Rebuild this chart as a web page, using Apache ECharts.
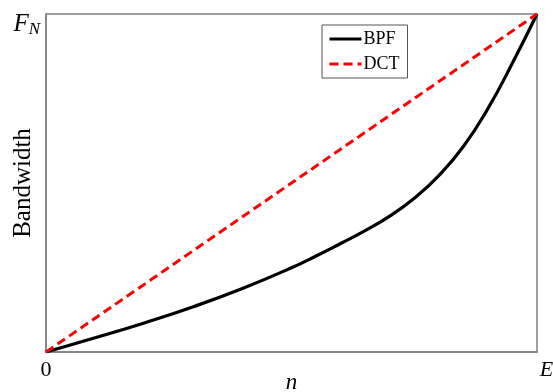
<!DOCTYPE html>
<html>
<head>
<meta charset="utf-8">
<script src="https://cdn.jsdelivr.net/npm/echarts@6/dist/echarts.min.js"></script>
<style>
  html, body { margin: 0; padding: 0; background: #fff; }
  #chart { width: 553px; height: 392px; }
</style>
</head>
<body>
<div id="chart"></div>
<script>
// normalised position n/E and bandwidth/F_N
const bpfX = [0, 0.1, 0.2, 0.3, 0.4, 0.5, 0.55, 0.6, 0.65, 0.7, 0.75, 0.8, 0.85, 0.9, 0.95, 1];
const bpfY = [0, 0.042, 0.086, 0.134, 0.188, 0.249, 0.284, 0.321, 0.359, 0.402, 0.455, 0.522, 0.608, 0.72, 0.855, 1];
const dctX = [0, 1];
const dctY = [0, 1];
const seriesNames = ["BPF", "DCT"];

const serif = "'Liberation Serif', 'DejaVu Serif', serif";

function pairs(xs, ys) {
  return xs.map((x, i) => [x, ys[i]]);
}

const myChart = echarts.init(document.getElementById("chart"));
const options = {
  animation: false,
  grid: {
    left: 46,
    right: 16,
    top: 14,
    bottom: 40,
    outerBoundsMode: "none",
    containLabel: false,
    show: true,
    borderColor: "#808080",
    borderWidth: 1.5
  },
  legend: {
    left: 322,
    top: 25,
    orient: "vertical",
    borderColor: "#555",
    borderWidth: 1,
    padding: [5, 8, 5, 6],
    itemWidth: 32,
    itemHeight: 12,
    itemGap: 7,
    itemStyle: { opacity: 0 },
    lineStyle: { width: 3 },
    textStyle: { fontFamily: serif, fontSize: 18, color: "#000", padding: [0, 0, 0, -3] },
    data: seriesNames
  },
  xAxis: {
    type: "value",
    min: 0,
    max: 1,
    interval: 1,
    name: "n",
    nameLocation: "middle",
    nameGap: 19,
    nameMoveOverlap: false,
    nameTextStyle: { fontFamily: serif, fontSize: 23, fontStyle: "italic", color: "#000" },
    axisLine: { show: true, lineStyle: { color: "#808080", width: 1.5 } },
    axisTick: { show: false },
    splitLine: { show: false },
    axisLabel: {
      margin: 7,
      fontFamily: serif,
      fontSize: 22,
      color: "#000",
      formatter: function (v) { return v === 0 ? "0" : "{i|E}"; },
      rich: { i: { fontFamily: serif, fontSize: 22, fontStyle: "italic", color: "#000", padding: [0, 0, 0, 19] } }
    }
  },
  yAxis: {
    type: "value",
    min: 0,
    max: 1,
    interval: 1,
    name: "Bandwidth",
    nameLocation: "middle",
    nameGap: 10,
    nameRotate: 90,
    nameMoveOverlap: false,
    nameTextStyle: { fontFamily: serif, fontSize: 25, color: "#000" },
    axisLine: { show: true, lineStyle: { color: "#808080", width: 1.5 } },
    axisTick: { show: false },
    splitLine: { show: false },
    axisLabel: {
      margin: 6,
      formatter: function (v) { return v === 1 ? "{f|F}{s|N}" : ""; },
      rich: {
        f: { fontFamily: serif, fontSize: 25, fontStyle: "italic", color: "#000", padding: [20, 0, 0, 0] },
        s: { fontFamily: serif, fontSize: 17, fontStyle: "italic", color: "#000", padding: [32, 0, 0, 0] }
      }
    }
  },
  series: [
    {
      name: seriesNames[0],
      type: "line",
      smooth: true,
      symbol: "none",
      lineStyle: { color: "#000", width: 3.2 },
      itemStyle: { color: "#000" },
      data: pairs(bpfX, bpfY)
    },
    {
      name: seriesNames[1],
      type: "line",
      symbol: "none",
      lineStyle: { color: "#ff0000", width: 3, type: [9, 5] },
      itemStyle: { color: "#ff0000" },
      data: pairs(dctX, dctY)
    }
  ]
};
myChart.setOption(options);
</script>
</body>
</html>
